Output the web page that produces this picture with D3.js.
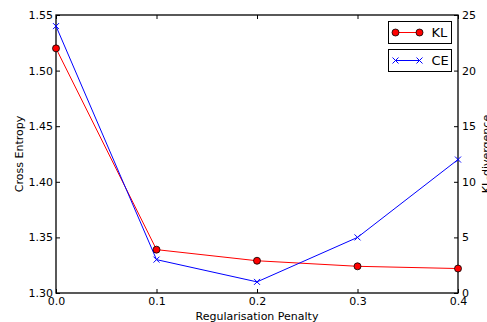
<!DOCTYPE html>
<html>
<head>
<meta charset="utf-8">
<script src="https://cdn.jsdelivr.net/npm/d3@7"></script>
<style>
  body { margin: 0; background: #fff; }
  text { font-family: "DejaVu Sans", sans-serif; }
</style>
</head>
<body>
<svg id="chart" width="487" height="322"></svg>
<script>
const penalty = [0.0, 0.1, 0.2, 0.3, 0.4];
const crossEntropy = [1.54, 1.33, 1.31, 1.35, 1.42];
const klDivergence = [22.0, 3.9, 2.9, 2.4, 2.2];
const xTicks = [0.0, 0.1, 0.2, 0.3, 0.4];
const ceTicks = [1.30, 1.35, 1.40, 1.45, 1.50, 1.55];
const klTicks = [0, 5, 10, 15, 20, 25];

const svg = d3.select('#chart');
const width = +svg.attr('width');
const height = +svg.attr('height');
const margin = { top: 15, right: 29, bottom: 29, left: 56 };
const plotWidth = width - margin.left - margin.right;
const plotHeight = height - margin.top - margin.bottom;

const xScale = d3.scaleLinear().domain([0, 0.4]).range([0, plotWidth]);
const yLeft = d3.scaleLinear().domain([1.30, 1.55]).range([plotHeight, 0]);
const yRight = d3.scaleLinear().domain([0, 25]).range([plotHeight, 0]);

const g = svg.append('g')
    .attr('transform', `translate(${margin.left},${margin.top})`);

function styleAxis(sel) {
    sel.select('.domain').remove();
    sel.selectAll('.tick line').attr('stroke', '#000').attr('stroke-width', 1);
    sel.selectAll('.tick text').attr('font-size', 11).attr('fill', '#000')
        .attr('font-family', '"DejaVu Sans", sans-serif');
}

// bottom axis, ticks inward
g.append('g')
    .attr('transform', `translate(0,${plotHeight})`)
    .call(d3.axisBottom(xScale).tickValues(xTicks).tickFormat(d3.format('.1f'))
        .tickSizeInner(-4).tickSizeOuter(0).tickPadding(4))
    .call(styleAxis);

// top axis ticks, no labels
g.append('g')
    .call(d3.axisTop(xScale).tickValues(xTicks).tickFormat('')
        .tickSizeInner(-4).tickSizeOuter(0))
    .call(styleAxis);

g.append('g')
    .call(d3.axisLeft(yLeft).tickValues(ceTicks).tickFormat(d3.format('.2f'))
        .tickSizeInner(-4).tickSizeOuter(0).tickPadding(3))
    .call(styleAxis);

g.append('g')
    .attr('transform', `translate(${plotWidth},0)`)
    .call(d3.axisRight(yRight).tickValues(klTicks)
        .tickSizeInner(-4).tickSizeOuter(0).tickPadding(4))
    .call(styleAxis);

// frame
g.append('rect')
    .attr('width', plotWidth)
    .attr('height', plotHeight)
    .attr('fill', 'none')
    .attr('stroke', '#000')
    .attr('stroke-width', 1.3);

const ceData = penalty.map((p, i) => ({ x: p, y: crossEntropy[i] }));
const klData = penalty.map((p, i) => ({ x: p, y: klDivergence[i] }));

g.append('path')
    .datum(klData)
    .attr('d', d3.line().x(d => xScale(d.x)).y(d => yRight(d.y)))
    .attr('fill', 'none')
    .attr('stroke', 'red')
    .attr('stroke-width', 1);

g.append('path')
    .datum(ceData)
    .attr('d', d3.line().x(d => xScale(d.x)).y(d => yLeft(d.y)))
    .attr('fill', 'none')
    .attr('stroke', 'blue')
    .attr('stroke-width', 1);

const crossPath = 'M-3,-3L3,3M-3,3L3,-3';

g.selectAll('path.ce-mark')
    .data(ceData)
    .enter()
    .append('path')
    .attr('class', 'ce-mark')
    .attr('transform', d => `translate(${xScale(d.x)},${yLeft(d.y)})`)
    .attr('d', crossPath)
    .attr('stroke', 'blue')
    .attr('stroke-width', 1);

g.selectAll('circle.kl-mark')
    .data(klData)
    .enter()
    .append('circle')
    .attr('class', 'kl-mark')
    .attr('cx', d => xScale(d.x))
    .attr('cy', d => yRight(d.y))
    .attr('r', 3.5)
    .attr('fill', 'red')
    .attr('stroke', '#000')
    .attr('stroke-width', 0.8);

// legends (two separate boxes)
const kl = svg.append('g').attr('transform', 'translate(388.5,21.5)');
kl.append('rect').attr('width', 63).attr('height', 22)
    .attr('fill', '#fff').attr('stroke', '#000').attr('stroke-width', 1);
kl.append('line').attr('x1', 7).attr('x2', 31).attr('y1', 11).attr('y2', 11)
    .attr('stroke', 'red').attr('stroke-width', 1);
[7, 31].forEach(x => kl.append('circle').attr('cx', x).attr('cy', 11).attr('r', 3.5)
    .attr('fill', 'red').attr('stroke', '#000').attr('stroke-width', 0.8));
kl.append('text').attr('x', 43).attr('y', 15.5).attr('font-size', 13).text('KL');

const ce = svg.append('g').attr('transform', 'translate(388.5,49.5)');
ce.append('rect').attr('width', 63).attr('height', 22)
    .attr('fill', '#fff').attr('stroke', '#000').attr('stroke-width', 1);
ce.append('line').attr('x1', 7).attr('x2', 31).attr('y1', 11).attr('y2', 11)
    .attr('stroke', 'blue').attr('stroke-width', 1);
[7, 31].forEach(x => ce.append('path').attr('transform', `translate(${x},11)`)
    .attr('d', crossPath).attr('stroke', 'blue').attr('stroke-width', 1));
ce.append('text').attr('x', 43).attr('y', 15.5).attr('font-size', 13).text('CE');

// axis labels
svg.append('text')
    .attr('x', margin.left + plotWidth / 2)
    .attr('y', 320)
    .attr('text-anchor', 'middle')
    .attr('font-size', 11)
    .text('Regularisation Penalty');

svg.append('text')
    .attr('transform', `translate(23,${margin.top + plotHeight / 2}) rotate(-90)`)
    .attr('text-anchor', 'middle')
    .attr('font-size', 11)
    .text('Cross Entropy');

svg.append('text')
    .attr('transform', `translate(490,${margin.top + plotHeight / 2}) rotate(-90)`)
    .attr('text-anchor', 'middle')
    .attr('font-size', 11)
    .text('KL-divergence');
</script>
</body>
</html>
